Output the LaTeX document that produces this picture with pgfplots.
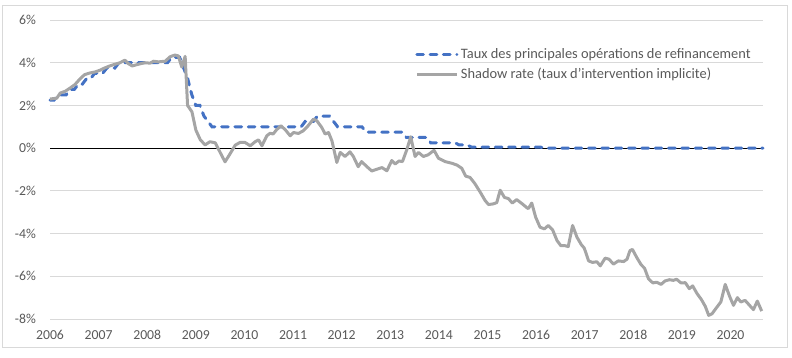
\documentclass[border=0pt]{standalone}
\usepackage{fontspec}
\setmainfont{Carlito}
\usepackage{pgfplots}
\pgfplotsset{compat=1.18}
\definecolor{mroblue}{HTML}{4472C4}
\definecolor{shgray}{HTML}{A5A5A5}
\definecolor{gridgray}{HTML}{D9D9D9}
\definecolor{txtgray}{HTML}{595959}
\begin{document}
\begin{tikzpicture}
\path (0,0) rectangle (594pt,267.75pt);
\draw[gridgray, line width=0.75pt] (1.5pt,7.5pt) rectangle (590.25pt,263.25pt);
\begin{axis}[
  at={(37.5pt,28.5pt)}, anchor=south west,
  scale only axis, width=534.75pt, height=224.25pt,
  xmin=2006, xmax=2020.667, ymin=-8, ymax=6,
  xtick={2006,2007,...,2020}, ytick={-8,-6,...,6},
  axis line style={draw=none}, major tick length=0pt,
  ymajorgrids, grid style={gridgray, line width=0.75pt},
  font=\fontsize{10}{12}\selectfont,
  tick label style={text=txtgray, font=\fontsize{10.3}{12}\selectfont},
  /pgf/number format/assume math mode=true,
  /pgf/number format/1000 sep={},
  xticklabel style={yshift=-5pt},
  yticklabel={\pgfmathprintnumber{\tick}\%},
  yticklabel style={xshift=-7pt},
  clip=false,
  legend style={draw=none, fill=none, at={(0.512,0.916)}, anchor=north west,
    font=\fontsize{10.8}{12}\selectfont, text=txtgray, row sep=2pt, inner sep=0pt},
  legend cell align=left,
  legend image code/.code={\draw[#1] (0pt,0pt) -- (30pt,0pt);},
]
\addplot[black, line width=0.75pt, forget plot] coordinates {(2006,0) (2020.667,0)};
\addplot[mroblue, line width=2.25pt, line cap=round, dash pattern=on 5pt off 5pt] coordinates {
(2006.000,2.25) (2006.083,2.25) (2006.167,2.50) (2006.333,2.50) (2006.417,2.75) (2006.500,2.75)
(2006.583,3.00) (2006.667,3.00) (2006.750,3.25) (2006.833,3.25) (2006.917,3.50) (2007.083,3.50)
(2007.167,3.75) (2007.333,3.75) (2007.417,4.00) (2008.417,4.00) (2008.500,4.25) (2008.667,4.25)
(2008.750,3.75) (2008.833,3.25) (2008.917,2.50) (2009.000,2.00) (2009.083,2.00) (2009.167,1.50)
(2009.250,1.25) (2009.333,1.00) (2011.167,1.00) (2011.250,1.25) (2011.417,1.25) (2011.500,1.50)
(2011.750,1.50) (2011.833,1.25) (2011.917,1.00) (2012.417,1.00) (2012.500,0.75) (2013.250,0.75)
(2013.333,0.50) (2013.750,0.50) (2013.833,0.25) (2014.333,0.25) (2014.417,0.15) (2014.583,0.15)
(2014.667,0.05) (2016.083,0.05) (2016.167,0.00) (2020.667,0.00)};
\addlegendentry{Taux des principales opérations de refinancement}
\addplot[shgray, line width=2.25pt, line join=round] coordinates {
(2006.00,2.30) (2006.14,2.34) (2006.21,2.58) (2006.31,2.66) (2006.41,2.81) (2006.51,2.97)
(2006.62,3.25) (2006.71,3.44) (2006.82,3.52) (2006.93,3.57) (2007.03,3.65) (2007.13,3.76)
(2007.23,3.85) (2007.34,3.93) (2007.44,4.00) (2007.54,4.12) (2007.61,3.96) (2007.69,3.85)
(2007.82,3.93) (2007.95,4.00) (2008.06,3.98) (2008.13,4.07) (2008.23,4.04) (2008.37,4.07)
(2008.47,4.28) (2008.57,4.36) (2008.64,4.32) (2008.71,3.80) (2008.78,4.30) (2008.83,2.00)
(2008.92,1.70) (2009.00,0.85) (2009.09,0.40) (2009.19,0.15) (2009.29,0.30) (2009.40,0.25)
(2009.50,-0.20) (2009.60,-0.64) (2009.70,-0.28) (2009.81,0.14) (2009.91,0.27) (2010.01,0.27)
(2010.12,0.11) (2010.22,0.30) (2010.29,0.39) (2010.36,0.11) (2010.46,0.58) (2010.53,0.70)
(2010.59,0.66) (2010.66,0.86) (2010.75,1.05) (2010.84,0.86) (2010.94,0.58) (2011.01,0.73)
(2011.11,0.69) (2011.21,0.81) (2011.31,1.05) (2011.42,1.36) (2011.49,1.28) (2011.59,0.97)
(2011.66,0.66) (2011.73,0.73) (2011.80,0.34) (2011.90,-0.67) (2011.97,-0.20) (2012.07,-0.39)
(2012.17,-0.17) (2012.24,-0.39) (2012.34,-0.87) (2012.41,-0.63) (2012.52,-0.87) (2012.62,-1.07)
(2012.72,-0.99) (2012.83,-0.91) (2012.93,-1.06) (2013.03,-0.58) (2013.10,-0.74) (2013.18,-0.60)
(2013.25,-0.63) (2013.34,-0.07) (2013.42,0.53) (2013.51,-0.39) (2013.58,-0.20) (2013.68,-0.39)
(2013.78,-0.31) (2013.90,-0.10) (2013.99,-0.47) (2014.13,-0.63) (2014.27,-0.71) (2014.37,-0.79)
(2014.47,-0.94) (2014.55,-1.31) (2014.64,-1.37) (2014.74,-1.66) (2014.85,-2.06) (2014.95,-2.45)
(2015.02,-2.64) (2015.12,-2.61) (2015.19,-2.55) (2015.26,-1.97) (2015.35,-2.31) (2015.43,-2.36)
(2015.51,-2.57) (2015.60,-2.41) (2015.71,-2.60) (2015.81,-2.79) (2015.84,-2.83) (2015.91,-2.57)
(2015.99,-3.23) (2016.08,-3.70) (2016.17,-3.78) (2016.25,-3.62) (2016.34,-3.83) (2016.43,-4.33)
(2016.51,-4.57) (2016.60,-4.57) (2016.66,-4.61) (2016.75,-3.62) (2016.84,-4.17) (2016.93,-4.52)
(2016.99,-4.68) (2017.08,-5.28) (2017.16,-5.35) (2017.25,-5.32) (2017.32,-5.51) (2017.42,-5.15)
(2017.50,-5.20) (2017.59,-5.43) (2017.69,-5.28) (2017.80,-5.31) (2017.87,-5.20) (2017.93,-4.80)
(2017.98,-4.74) (2018.07,-5.12) (2018.16,-5.46) (2018.23,-5.62) (2018.31,-6.11) (2018.40,-6.31)
(2018.48,-6.28) (2018.57,-6.38) (2018.65,-6.22) (2018.74,-6.16) (2018.82,-6.19) (2018.89,-6.14)
(2018.98,-6.31) (2019.07,-6.30) (2019.15,-6.58) (2019.22,-6.45) (2019.31,-6.81) (2019.40,-7.09)
(2019.48,-7.41) (2019.55,-7.83) (2019.62,-7.75) (2019.71,-7.47) (2019.80,-7.20) (2019.89,-6.38)
(2019.98,-6.94) (2020.06,-7.36) (2020.14,-7.00) (2020.21,-7.20) (2020.30,-7.13) (2020.39,-7.36)
(2020.47,-7.56) (2020.55,-7.16) (2020.64,-7.63)};
\addlegendentry{Shadow rate (taux d'intervention implicite)}
\end{axis}
\end{tikzpicture}
\end{document}
